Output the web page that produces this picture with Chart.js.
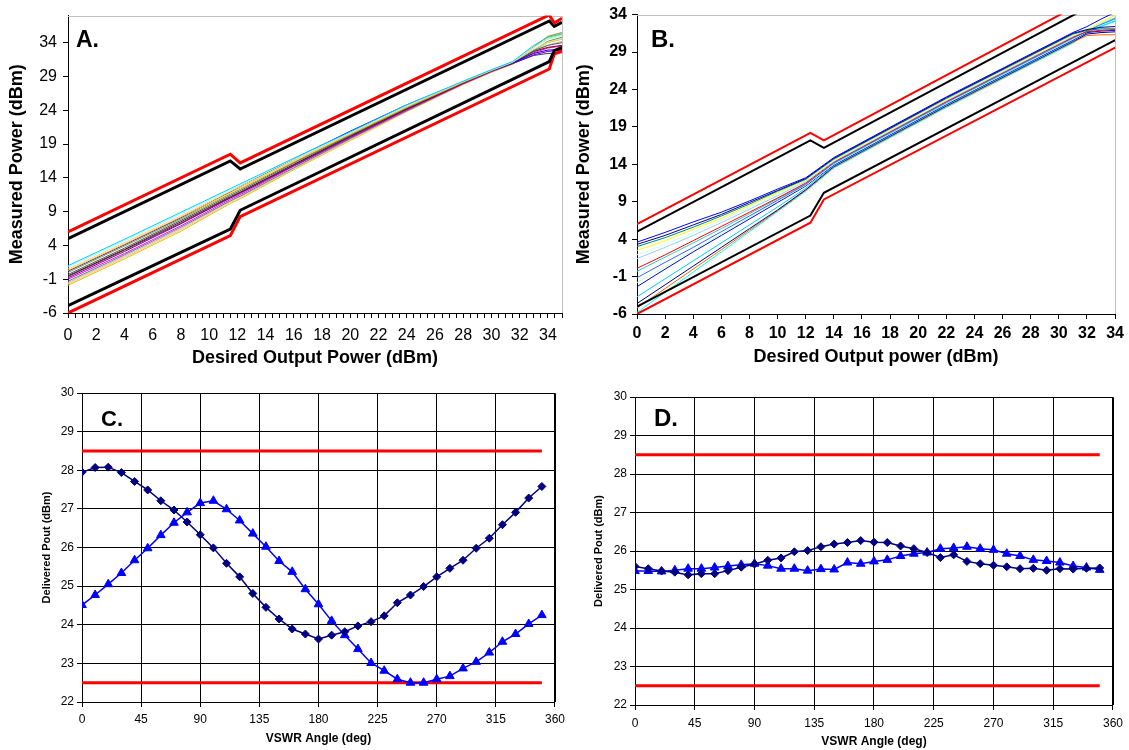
<!DOCTYPE html>
<html>
<head>
<meta charset="utf-8">
<script src="https://cdn.jsdelivr.net/npm/chart.js@4/dist/chart.umd.min.js"></script>
<style>
  body { margin: 0; background: #fff; width: 1129px; height: 750px; overflow: hidden; }
  canvas { position: absolute; }
</style>
</head>
<body>
<canvas id="chartA" width="570" height="375" style="left:0;top:0"></canvas>
<canvas id="chartB" width="559" height="375" style="left:570px;top:0"></canvas>
<canvas id="chartC" width="570" height="375" style="left:0;top:375px"></canvas>
<canvas id="chartD" width="559" height="375" style="left:570px;top:375px"></canvas>
<script>
// ---- Panel A: measured vs desired output power ----
const aYTicks = [-6, -1, 4, 9, 14, 19, 24, 29, 34];
const aLimitX = [0, 11.5, 12.2, 34.1, 34.45, 35];
const aUpperRed   = [6, 17.5, 16.2, 38.1, 36.9, 37.6];
const aUpperBlack = [5, 16.5, 15.3, 37.2, 36.4, 37.0];
const aLowerBlack = [-4.9, 6.4, 9.2, 31.2, 32.8, 33.3];
const aLowerRed   = [-6, 5.45, 8.26, 30.1, 32.3, 32.8];
const aTraceX = [0, 4, 8, 11.5, 12.2, 16, 20, 24, 28, 30, 31.5, 33, 34, 35];
const aTraceColors = ['#00ccff', '#99ffff', '#ffcc99', '#ffcc00', '#0000ff', '#999933', '#336666', '#800000',
                      '#800080', '#ff00ff', '#339966', '#ff99cc', '#ffcc66', '#cccc00', '#333399'];
const aTraces = [
  [1.0, 4.9, 8.9, 12.4, 13.1, 16.9, 20.8, 24.8, 28.3, 30.0, 31.2, 33.6, 34.8, 35.3],
  [0.8, 4.7, 8.7, 12.2, 12.9, 16.8, 20.7, 24.7, 28.3, 30.0, 31.2, 33.3, 34.5, 35.0],
  [0.5, 4.4, 8.4, 12.0, 12.7, 16.6, 20.6, 24.6, 28.2, 29.9, 31.1, 33.0, 34.1, 34.6],
  [0.3, 4.2, 8.2, 11.8, 12.5, 16.5, 20.5, 24.5, 28.2, 29.9, 31.1, 33.3, 34.6, 35.2],
  [0.2, 4.1, 8.1, 11.9, 12.7, 16.8, 20.9, 24.8, 28.2, 29.9, 31.0, 32.4, 32.9, 33.0],
  [0.0, 3.9, 7.9, 11.6, 12.3, 16.3, 20.4, 24.4, 28.1, 29.9, 31.1, 33.4, 34.9, 35.5],
  [-0.3, 3.6, 7.7, 11.4, 12.1, 16.2, 20.3, 24.3, 28.1, 29.8, 31.0, 32.8, 33.6, 34.0],
  [-0.5, 3.4, 7.5, 11.2, 11.9, 16.0, 20.2, 24.2, 28.0, 29.8, 31.0, 32.7, 33.3, 33.6],
  [-0.8, 3.1, 7.2, 11.0, 11.7, 15.8, 20.0, 24.1, 28.0, 29.8, 30.9, 32.2, 32.7, 32.9],
  [-1.0, 2.8, 6.9, 10.8, 11.5, 15.7, 19.9, 24.0, 27.9, 29.7, 30.9, 32.5, 33.2, 33.5],
  [-1.3, 2.6, 6.7, 10.6, 11.3, 15.5, 19.8, 23.9, 27.9, 29.7, 30.9, 32.9, 34.2, 34.8],
  [-1.5, 2.4, 6.5, 10.5, 11.2, 15.4, 19.7, 23.9, 27.9, 29.7, 30.9, 32.6, 33.6, 34.2],
  [-1.7, 2.2, 6.3, 10.3, 11.0, 15.3, 19.6, 23.8, 27.8, 29.7, 30.9, 33.2, 35.0, 35.5],
  [-1.9, 2.0, 6.1, 10.2, 10.9, 15.2, 19.5, 23.8, 27.8, 29.6, 30.8, 32.8, 34.0, 34.5],
  [-0.6, 3.3, 7.3, 11.1, 11.8, 15.9, 20.1, 24.2, 28.0, 29.8, 30.9, 32.1, 32.4, 32.5]
];

// ---- Panel B ----
const bYTicks = [-6, -1, 4, 9, 14, 19, 24, 29, 34];
const bLimitX = [0, 12.33, 13.29, 34];
const bUpperRed   = [6, 18.2, 17.2, 37.9];
const bUpperBlack = [5, 17.2, 16.2, 36.9];
const bLowerBlack = [-5, 7.15, 10.2, 30.6];
const bLowerRed   = [-6, 6.2, 9.3, 29.6];
const bTraceX = [0, 2, 4, 6, 8, 10, 12, 14, 22, 31, 32, 33, 34];
const bTraceColors = ['#0000ff', '#000080', '#008080', '#ffff00', '#ccffff', '#99ccff', '#ff0000', '#3366ff',
                      '#33cccc', '#ccffcc', '#0000ff', '#00ccff', '#000080', '#ff6600', '#00ffff'];
const bTraces = [
  [3.6, 4.9, 6.3, 7.6, 9.1, 10.7, 12.2, 14.9, 23.0, 31.6, 32.4, 33.4, 34.3],
  [3.3, 4.5, 5.9, 7.3, 8.9, 10.5, 12.1, 14.8, 22.9, 31.5, 32.0, 32.3, 32.4],
  [3.0, 4.2, 5.6, 7.1, 8.7, 10.4, 12.0, 14.7, 22.8, 31.4, 31.9, 32.1, 32.1],
  [2.5, 3.8, 5.3, 6.8, 8.5, 10.2, 11.9, 14.6, 22.7, 31.3, 32.0, 33.0, 33.9],
  [1.9, 3.3, 4.9, 6.5, 8.2, 10.0, 11.8, 14.5, 22.6, 31.2, 32.0, 32.9, 33.8],
  [1.4, 2.9, 4.5, 6.2, 8.0, 9.8, 11.7, 14.4, 22.5, 31.1, 31.9, 32.8, 33.6],
  [0.1, 1.9, 3.8, 5.7, 7.6, 9.5, 11.5, 14.3, 22.4, 31.0, 31.7, 31.9, 32.0],
  [-1.15, 0.9, 2.9, 5.0, 7.1, 9.2, 11.3, 14.2, 22.3, 30.9, 31.8, 32.7, 33.5],
  [-0.3, 1.6, 3.5, 5.4, 7.4, 9.4, 11.4, 14.1, 22.2, 30.8, 31.8, 32.7, 33.4],
  [-1.8, 0.3, 2.5, 4.7, 6.9, 9.1, 11.2, 14.0, 22.1, 30.7, 31.7, 32.6, 33.3],
  [-2.35, 0.0, 2.3, 4.5, 6.7, 8.9, 11.1, 13.9, 22.0, 30.6, 31.6, 31.8, 31.9],
  [-3.7, -1.3, 1.1, 3.5, 5.9, 8.3, 10.8, 13.8, 21.9, 30.5, 31.6, 32.5, 33.2],
  [-4.6, -2.1, 0.4, 2.9, 5.4, 7.9, 10.6, 13.7, 21.8, 30.4, 31.4, 31.6, 31.7],
  [-5.2, -2.6, 0.0, 2.6, 5.2, 7.8, 10.5, 13.6, 21.7, 30.3, 31.2, 31.3, 31.3],
  [-5.8, -3.1, -0.4, 2.3, 5.0, 7.7, 10.4, 13.5, 21.6, 30.2, 31.5, 32.4, 33.1]
];

// ---- Panels C and D: delivered power vs VSWR angle ----
const angles = [0, 10, 20, 30, 40, 50, 60, 70, 80, 90, 100, 110, 120, 130, 140, 150, 160, 170,
                180, 190, 200, 210, 220, 230, 240, 250, 260, 270, 280, 290, 300, 310, 320, 330, 340, 350];
const cNavy = [27.95, 28.07, 28.08, 27.94, 27.71, 27.49, 27.21, 26.97, 26.66, 26.33, 25.99, 25.59,
               25.24, 24.81, 24.45, 24.15, 23.89, 23.76, 23.63, 23.73, 23.82, 23.97, 24.08, 24.23,
               24.57, 24.77, 24.99, 25.24, 25.46, 25.67, 25.98, 26.24, 26.59, 26.91, 27.28, 27.58];
const cBlue = [24.51, 24.77, 25.05, 25.34, 25.67, 25.98, 26.32, 26.64, 26.91, 27.15, 27.21, 26.99,
               26.70, 26.36, 26.02, 25.65, 25.37, 24.92, 24.53, 24.10, 23.73, 23.37, 23.01, 22.81,
               22.59, 22.50, 22.50, 22.59, 22.67, 22.87, 23.04, 23.28, 23.56, 23.76, 24.02, 24.25];
const dNavy = [25.60, 25.54, 25.48, 25.45, 25.38, 25.41, 25.41, 25.49, 25.58, 25.66, 25.76, 25.82,
               25.98, 26.01, 26.11, 26.18, 26.22, 26.27, 26.23, 26.22, 26.13, 26.06, 25.96, 25.83,
               25.90, 25.73, 25.67, 25.63, 25.59, 25.54, 25.55, 25.50, 25.54, 25.53, 25.55, 25.56];
const dBlue = [25.48, 25.48, 25.47, 25.50, 25.54, 25.54, 25.57, 25.61, 25.64, 25.67, 25.62, 25.54,
               25.54, 25.49, 25.53, 25.52, 25.70, 25.67, 25.73, 25.77, 25.87, 25.93, 25.96, 26.06,
               26.08, 26.11, 26.06, 26.03, 25.93, 25.87, 25.77, 25.74, 25.70, 25.61, 25.57, 25.51];
const specX = [0, 350];
const specHigh = [28.5, 28.5];
const specLow = [22.5, 22.5];

const FONT = 'Liberation Sans, Arial, sans-serif';

// draws the top and right edges of the plot box
const framePlugin = {
    id: 'frame',
    beforeDatasetsDraw(chart, args, opts) {
        const a = chart.chartArea, ctx = chart.ctx;
        ctx.save();
        ctx.strokeStyle = opts.color;
        ctx.lineWidth = 1;
        ctx.beginPath();
        ctx.moveTo(Math.round(a.left), Math.round(a.top) + 0.5);
        ctx.lineTo(Math.round(a.right) + 0.5, Math.round(a.top) + 0.5);
        ctx.lineTo(Math.round(a.right) + 0.5, Math.round(a.bottom));
        ctx.stroke();
        ctx.restore();
    }
};

// panel letter (A., B., ...)
const letterPlugin = {
    id: 'letter',
    afterDraw(chart, args, opts) {
        const ctx = chart.ctx;
        ctx.save();
        ctx.font = 'bold ' + opts.size + 'px ' + FONT;
        ctx.fillStyle = '#000';
        ctx.textBaseline = 'alphabetic';
        ctx.fillText(opts.text, opts.x, opts.y);
        ctx.restore();
    }
};

function pts(xs, ys) {
    return xs.map((x, i) => ({ x: x, y: ys[i] }));
}

function lineSet(xs, ys, color, width) {
    return { data: pts(xs, ys), borderColor: color, backgroundColor: color,
             borderWidth: width, pointRadius: 0, showLine: true, tension: 0 };
}

function markerSet(xs, ys, color, style, radius) {
    return { data: pts(xs, ys), borderColor: color, backgroundColor: color, borderWidth: 1.5,
             pointStyle: style, pointRadius: radius, pointBorderWidth: 1, showLine: true, tension: 0 };
}

function makeChart(id, p) {
    new Chart(document.getElementById(id), {
        type: 'scatter',
        data: { datasets: p.datasets },
        plugins: [framePlugin, letterPlugin],
        options: {
            responsive: false,
            animation: false,
            devicePixelRatio: 1,
            layout: { padding: p.padding },
            plugins: {
                legend: { display: false },
                tooltip: { enabled: false },
                frame: { color: p.frameColor },
                letter: p.letter
            },
            scales: {
                x: Object.assign({
                    type: 'linear',
                    afterFit: s => { s.height = p.xHeight; }
                }, p.x),
                y: Object.assign({
                    type: 'linear',
                    afterFit: s => { s.width = p.yWidth; }
                }, p.y)
            }
        }
    });
}

// Panel A
const aSets = [
    lineSet(aLimitX, aUpperRed, '#ff0000', 3),
    lineSet(aLimitX, aUpperBlack, '#000000', 3),
    lineSet(aLimitX, aLowerBlack, '#000000', 3),
    lineSet(aLimitX, aLowerRed, '#ff0000', 3)
];
aTraces.forEach((t, i) => aSets.push(lineSet(aTraceX, t, aTraceColors[i], 1)));

makeChart('chartA', {
    datasets: aSets,
    padding: { top: 11, right: 7, left: 0, bottom: 0 },
    xHeight: 62, yWidth: 68, frameColor: '#c0c0c0',
    letter: { text: 'A.', x: 76, y: 47, size: 23 },
    x: {
        min: 0, max: 35,
        grid: { drawOnChartArea: false, tickLength: 5, color: '#000' },
        border: { color: '#000' },
        ticks: { stepSize: 0.5, autoSkip: false, maxRotation: 0, padding: 8, color: '#000',
                 font: { family: FONT, size: 16 },
                 callback: v => (v % 2 === 0 ? v : '') },
        title: { display: true, text: 'Desired Output Power (dBm)', color: '#000',
                 font: { family: FONT, size: 18, weight: 'bold' }, padding: 6 }
    },
    y: {
        min: -6, max: 38,
        afterBuildTicks: s => { s.ticks = aYTicks.map(v => ({ value: v })); },
        grid: { drawOnChartArea: false, tickLength: 5, color: '#000' },
        border: { color: '#000' },
        ticks: { padding: 6, color: '#000', font: { family: FONT, size: 16 } },
        title: { display: true, text: 'Measured Power (dBm)', color: '#000',
                 font: { family: FONT, size: 18, weight: 'bold' }, padding: 6 }
    }
});

// Panel B
const bSets = [
    lineSet(bLimitX, bUpperRed, '#ff0000', 2),
    lineSet(bLimitX, bUpperBlack, '#000000', 2),
    lineSet(bLimitX, bLowerBlack, '#000000', 2),
    lineSet(bLimitX, bLowerRed, '#ff0000', 2)
];
bTraces.forEach((t, i) => bSets.push(lineSet(bTraceX, t, bTraceColors[i], 1)));

makeChart('chartB', {
    datasets: bSets,
    padding: { top: 12, right: 10, left: 0, bottom: 0 },
    xHeight: 61, yWidth: 67, frameColor: '#c0c0c0',
    letter: { text: 'B.', x: 81, y: 47, size: 24 },
    x: {
        min: 0, max: 34,
        grid: { drawOnChartArea: false, tickLength: 5, color: '#000' },
        border: { color: '#000' },
        ticks: { stepSize: 2, autoSkip: false, maxRotation: 0, padding: 5, color: '#000',
                 font: { family: FONT, size: 16, weight: 'bold' } },
        title: { display: true, text: 'Desired Output power (dBm)', color: '#000',
                 font: { family: FONT, size: 18, weight: 'bold' }, padding: 7 }
    },
    y: {
        min: -6, max: 34,
        afterBuildTicks: s => { s.ticks = bYTicks.map(v => ({ value: v })); },
        grid: { drawOnChartArea: false, tickLength: 5, color: '#000' },
        border: { color: '#000' },
        ticks: { padding: 5, color: '#000', font: { family: FONT, size: 16, weight: 'bold' } },
        title: { display: true, text: 'Measured Power (dBm)', color: '#000',
                 font: { family: FONT, size: 18, weight: 'bold' }, padding: 3 }
    }
});

// Panels C and D share the same styling
function vswrPanel(id, navy, blue, padding, xHeight, yWidth, letter, xTitlePad, yTitlePad, xTickPad) {
    makeChart(id, {
        datasets: [
            markerSet(angles, navy, '#000080', 'rectRot', 4),
            markerSet(angles, blue, '#0000ff', 'triangle', 5),
            lineSet(specX, specHigh, '#ff0000', 3),
            lineSet(specX, specLow, '#ff0000', 3)
        ],
        padding: padding, xHeight: xHeight, yWidth: yWidth, frameColor: '#000',
        letter: letter,
        x: {
            min: 0, max: 360,
            grid: { color: '#000', tickLength: 5 },
            border: { color: '#000' },
            ticks: { stepSize: 45, autoSkip: false, maxRotation: 0, padding: xTickPad, color: '#000',
                     font: { family: FONT, size: 12 } },
            title: { display: true, text: 'VSWR Angle (deg)', color: '#000',
                     font: { family: FONT, size: 12, weight: 'bold' }, padding: xTitlePad }
        },
        y: {
            min: 22, max: 30,
            grid: { color: '#000', tickLength: 5 },
            border: { color: '#000' },
            ticks: { stepSize: 1, padding: 3, color: '#000', font: { family: FONT, size: 12 } },
            title: { display: true, text: 'Delivered Pout (dBm)', color: '#000',
                     font: { family: FONT, size: 11, weight: 'bold' }, padding: yTitlePad }
        }
    });
}

vswrPanel('chartC', cNavy, cBlue, { top: 18, right: 8, left: 0, bottom: 0 }, 48, 82,
          { text: 'C.', x: 101, y: 51, size: 22 }, 4, 40, 5);
vswrPanel('chartD', dNavy, dBlue, { top: 22, right: 14, left: 0, bottom: 0 }, 45, 65,
          { text: 'D.', x: 84, y: 51, size: 24 }, 1, 22, 6);
</script>
</body>
</html>
